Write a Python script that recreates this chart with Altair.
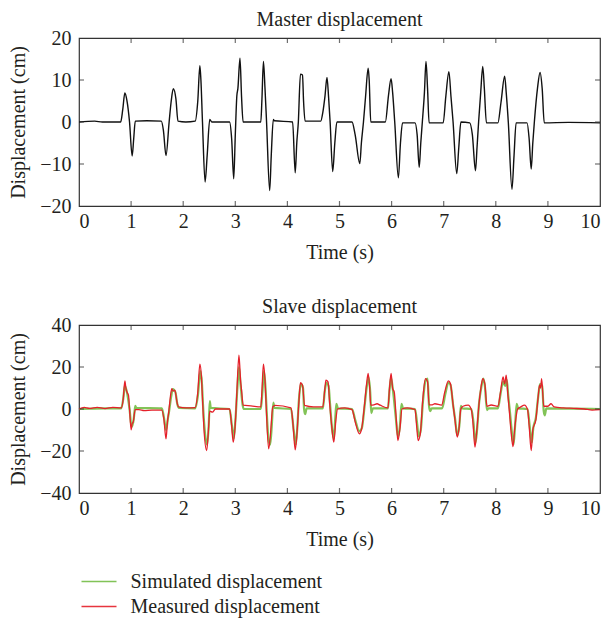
import altair as alt
import pandas as pd

# ---------------- data ----------------
x_ticks = [0, 1, 2, 3, 4, 5, 6, 7, 8, 9, 10]
top_y_ticks = [-20, -10, 0, 10, 20]
bot_y_ticks = [-40, -20, 0, 20, 40]

master_t = [0.00, 0.30, 0.45, 0.80, 0.84, 0.88, 0.92, 0.97, 1.02, 1.05, 1.08, 1.30, 1.58, 1.62, 1.67,
            1.73, 1.77, 1.81, 1.86, 1.90, 2.05, 2.23, 2.28, 2.32, 2.34, 2.37, 2.42, 2.46, 2.51, 2.55,
            2.89, 2.93, 2.97, 3.00, 3.03, 3.05, 3.09, 3.12, 3.15, 3.49, 3.51, 3.54, 3.57, 3.60, 3.66,
            3.69, 3.73, 3.75, 4.10, 4.15, 4.18, 4.21, 4.25, 4.29, 4.31, 4.34, 4.64, 4.68, 4.72, 4.76,
            4.79, 4.82, 4.87, 4.91, 4.95, 5.24, 5.30, 5.39, 5.42, 5.46, 5.50, 5.55, 5.57, 5.60, 5.88,
            5.94, 5.99, 6.02, 6.06, 6.13, 6.17, 6.21, 6.45, 6.49, 6.53, 6.56, 6.59, 6.63, 6.66, 6.69,
            6.72, 6.99, 7.04, 7.10, 7.14, 7.18, 7.25, 7.29, 7.33, 7.50, 7.55, 7.61, 7.64, 7.67, 7.71,
            7.75, 7.78, 7.82, 8.04, 8.10, 8.17, 8.20, 8.24, 8.31, 8.35, 8.39, 8.60, 8.64, 8.68, 8.71,
            8.74, 8.80, 8.85, 8.89, 8.93, 9.40, 10.00]
master_v = [0.0, 0.2, 0.0, 0.0, 3.0, 6.9, 5.1, 0.0, -8.1, -4.0, 0.2, 0.3, 0.2, -2.0, -8.0,
            0.0, 5.0, 7.9, 5.5, 0.2, 0.0, 0.2, 5.0, 13.4, 10.0, 0.0, -14.3, -8.0, 0.6, 0.0,
            0.0, -4.0, -13.5, -3.0, 6.3, 8.0, 15.2, 6.0, 0.0, 0.0, 5.0, 14.4, 8.0, 0.0, -16.3,
            -8.0, 0.6, 0.3, 0.0, -12.1, -5.0, 0.0, 11.4, 11.2, 5.0, 0.2, 0.2, 2.3, 6.0, 10.6,
            6.0, 0.0, -11.8, -5.0, 0.0, 0.0, -3.0, -9.9, -5.0, 0.0, 6.0, 12.8, 10.0, 0.0, 0.0,
            6.3, 10.3, 7.0, 0.0, -13.3, -5.0, -0.2, -0.2, -3.0, -10.8, -5.0, 0.0, 7.0, 14.4, 8.0,
            -0.2, -0.2, 6.0, 12.0, 6.0, 0.0, -12.3, -6.0, 0.0, -0.2, -3.0, -11.6, -6.0, 0.0, 7.0,
            13.2, 8.0, -0.2, -0.2, 4.7, 10.9, 7.0, 0.0, -16.0, -8.0, -0.2, -0.2, -4.0, -11.2, -5.0,
            0.0, 8.0, 11.8, 8.0, -0.2, -0.1, -0.2]

sim_t = [0.00, 0.50, 0.81, 0.85, 0.88, 0.92, 0.97, 1.01, 1.05, 1.08, 1.10, 1.59, 1.63, 1.67, 1.71,
         1.73, 1.77, 1.80, 1.85, 1.89, 1.92, 2.23, 2.28, 2.33, 2.36, 2.38, 2.42, 2.46, 2.49, 2.51,
         2.53, 2.89, 2.93, 2.97, 3.00, 3.04, 3.07, 3.10, 3.14, 3.16, 3.49, 3.52, 3.55, 3.58, 3.60,
         3.64, 3.67, 3.70, 3.73, 3.75, 4.07, 4.12, 4.16, 4.19, 4.22, 4.26, 4.30, 4.32, 4.34, 4.37,
         4.68, 4.72, 4.75, 4.79, 4.82, 4.86, 4.89, 4.92, 4.94, 4.97, 5.24, 5.30, 5.38, 5.43, 5.48,
         5.52, 5.56, 5.59, 5.61, 5.64, 5.93, 5.96, 5.99, 6.03, 6.08, 6.12, 6.16, 6.19, 6.22, 6.45,
         6.49, 6.52, 6.56, 6.60, 6.65, 6.69, 6.72, 6.74, 6.77, 6.97, 7.03, 7.09, 7.13, 7.18, 7.22,
         7.26, 7.30, 7.33, 7.36, 7.53, 7.57, 7.61, 7.64, 7.68, 7.72, 7.76, 7.79, 7.83, 7.86, 8.04,
         8.09, 8.14, 8.18, 8.21, 8.24, 8.27, 8.30, 8.34, 8.37, 8.40, 8.43, 8.61, 8.65, 8.69, 8.72,
         8.77, 8.81, 8.85, 8.89, 8.92, 8.94, 8.97, 10.00]
sim_v = [0.0, 0.3, 0.3, 5.0, 11.0, 8.0, 0.0, -8.5, -5.0, 1.5, 0.5, 0.3, -4.0, -10.0, -4.0,
         -1.0, 6.0, 9.5, 8.0, 2.0, 0.5, 0.3, 6.0, 18.0, 12.0, 2.0, -12.0, -17.0, -8.0, 3.8,
         0.5, 0.0, -7.0, -14.0, -6.0, 10.0, 20.0, 12.0, 2.0, 0.0, 0.0, 8.0, 18.0, 10.0, 0.0,
         -15.0, -17.0, -8.0, 3.0, 0.5, 0.0, -10.0, -17.0, -9.0, 4.0, 12.0, 10.0, 0.0, -2.5, 0.3,
         0.3, 9.0, 12.5, 11.0, 2.0, -10.0, -14.0, -4.0, 2.5, 0.3, 0.0, -5.0, -10.5, -9.0, 1.0,
         10.0, 15.0, 8.0, -2.0, 0.3, 0.3, 9.0, 15.0, 8.0, -4.0, -13.0, -8.0, 2.5, 0.3, 0.0,
         -7.0, -13.0, -10.0, 3.0, 13.5, 14.5, 1.0, -1.0, 0.3, 0.3, 7.0, 12.5, 11.5, 2.0, -5.0,
         -12.5, -8.0, 1.5, 0.3, 0.0, -6.0, -16.0, -10.0, 3.0, 10.0, 14.5, 11.0, -0.5, 0.3, 0.3,
         7.0, 13.0, 11.0, 14.0, 6.0, -1.0, -9.0, -17.0, -8.0, 2.5, 0.3, 0.0, -8.0, -16.0, -9.0,
         -4.0, 5.0, 12.0, 11.0, -1.0, -3.0, 0.3, 0.0]

meas_t = [0.00, 0.10, 0.20, 0.35, 0.50, 0.65, 0.81, 0.85, 0.88, 0.90, 0.92, 0.95, 0.97, 1.00, 1.02,
          1.04, 1.08, 1.15, 1.25, 1.40, 1.59, 1.63, 1.67, 1.70, 1.72, 1.75, 1.78, 1.81, 1.84, 1.88,
          1.91, 2.05, 2.23, 2.28, 2.32, 2.35, 2.37, 2.40, 2.45, 2.48, 2.51, 2.56, 2.62, 2.89, 2.93,
          2.96, 3.00, 3.03, 3.07, 3.09, 3.10, 3.12, 3.15, 3.30, 3.49, 3.51, 3.54, 3.57, 3.59, 3.64,
          3.67, 3.72, 3.76, 4.07, 4.11, 4.15, 4.18, 4.22, 4.25, 4.29, 4.33, 4.50, 4.68, 4.72, 4.74,
          4.78, 4.81, 4.85, 4.89, 4.93, 4.96, 5.10, 5.24, 5.30, 5.38, 5.42, 5.48, 5.52, 5.55, 5.58,
          5.60, 5.66, 5.72, 5.78, 5.93, 5.96, 5.99, 6.02, 6.05, 6.09, 6.12, 6.16, 6.20, 6.30, 6.45,
          6.48, 6.51, 6.55, 6.60, 6.65, 6.69, 6.72, 6.78, 6.83, 6.96, 7.02, 7.09, 7.13, 7.18, 7.22,
          7.26, 7.29, 7.33, 7.37, 7.47, 7.53, 7.56, 7.60, 7.63, 7.68, 7.72, 7.75, 7.79, 7.83, 7.91,
          8.04, 8.09, 8.14, 8.17, 8.20, 8.23, 8.26, 8.29, 8.33, 8.36, 8.42, 8.48, 8.55, 8.61, 8.64,
          8.68, 8.71, 8.77, 8.81, 8.84, 8.86, 8.88, 8.92, 9.00, 9.06, 9.12, 9.30, 9.50, 9.70, 9.85,
          10.00]
meas_v = [0.0, 0.8, 0.3, 0.8, 0.2, 0.8, 0.5, 5.0, 13.4, 10.0, 8.1, 6.5, 0.0, -9.9, -7.0,
          -6.2, -0.3, -0.3, -0.8, -0.5, -0.5, -5.0, -14.2, -5.4, -2.0, 5.0, 9.7, 8.5, 9.0, 3.4,
          1.0, 0.5, 0.7, 8.0, 21.4, 15.3, 5.0, -10.0, -19.8, -11.8, -1.0, -1.5, 0.0, 0.0, -8.0,
          -15.8, -7.0, 8.0, 25.7, 18.5, 14.0, 9.0, 1.8, 1.5, 1.0, 8.0, 21.4, 13.7, 3.0, -19.0,
          -13.4, 1.0, 1.7, 0.5, -8.0, -19.5, -13.0, 3.0, 12.5, 11.3, 1.7, 1.0, 1.0, 10.0, 13.7,
          12.9, 3.0, -8.0, -15.8, -5.4, 0.0, 0.5, -0.3, -6.0, -11.8, -10.0, 2.0, 12.0, 16.9, 9.7,
          1.8, 2.0, 2.5, 1.8, 0.5, 10.0, 16.9, 9.7, 8.1, -5.0, -15.0, -9.4, 0.0, 0.5, -0.3,
          -8.0, -15.0, -12.0, 5.0, 14.5, 13.0, 2.0, 2.0, 2.5, 1.8, 8.0, 13.4, 12.0, 2.0, -6.0,
          -13.4, -10.0, 0.0, 1.3, 1.8, -0.3, -6.0, -18.2, -11.8, 3.0, 11.0, 14.5, 12.0, 1.3, 1.9,
          1.3, 8.0, 15.3, 12.0, 16.1, 7.3, -1.0, -10.0, -17.9, -10.0, 0.0, 1.0, 1.8, -0.3, -8.0,
          -19.8, -10.0, -5.0, 5.0, 11.3, 10.0, 14.5, 1.3, 1.3, 2.5, 1.0, 0.5, 0.3, 0.0, -0.5,
          -0.3]

series_names = ["Simulated displacement", "Measured displacement"]
series_colors = ["#74bd45", "#e5202a"]

# ---------------- styling ----------------
FONT = "Liberation Serif"
FS = 20
INK = "#231f20"
FRAME = "#333333"
W, H = 521, 168

master_df = pd.DataFrame({"t": master_t, "v": master_v})
sim_df = pd.DataFrame({"t": sim_t, "v": sim_v, "series": series_names[0]})
meas_df = pd.DataFrame({"t": meas_t, "v": meas_v, "series": series_names[1]})


def x_enc():
    return alt.X("t:Q", scale=alt.Scale(domain=[0, 10], nice=False, zero=False),
                 axis=alt.Axis(values=x_ticks, title="Time (s)", format="d"))


def y_enc(ticks):
    return alt.Y("v:Q", scale=alt.Scale(domain=[ticks[0], ticks[-1]], nice=False, zero=False),
                 axis=alt.Axis(values=ticks, title="Displacement (cm)", format="d"))


def tick_layers(yticks):
    lo, hi = yticks[0], yticks[-1]
    xs = pd.DataFrame({"t": x_ticks[1:-1]})
    ys = pd.DataFrame({"v": yticks[1:-1]})
    common = dict(color=FRAME, thickness=1.2, size=5)
    return [
        alt.Chart(xs.assign(v=lo)).mark_tick(orient="vertical", yOffset=-2.5, **common).encode(x="t:Q", y="v:Q"),
        alt.Chart(xs.assign(v=hi)).mark_tick(orient="vertical", yOffset=2.5, **common).encode(x="t:Q", y="v:Q"),
        alt.Chart(ys.assign(t=x_ticks[0])).mark_tick(orient="horizontal", xOffset=2.5, **common).encode(x="t:Q", y="v:Q"),
        alt.Chart(ys.assign(t=x_ticks[-1])).mark_tick(orient="horizontal", xOffset=-2.5, **common).encode(x="t:Q", y="v:Q"),
    ]


top_line = alt.Chart(master_df).mark_line(color="#111111", strokeWidth=1.4, interpolate="monotone").encode(
    x=x_enc(), y=y_enc(top_y_ticks))
top = alt.layer(top_line, *tick_layers(top_y_ticks)).properties(
    width=W, height=H, title="Master displacement")

color = alt.Color("series:N",
                  scale=alt.Scale(domain=series_names, range=series_colors),
                  legend=alt.Legend(title=None, orient="none", legendX=1.5, legendY=245.5,
                                    direction="vertical", symbolType="M-1.75,0L1.75,0",
                                    symbolSize=400, symbolStrokeWidth=1.5, symbolOffset=7.5,
                                    symbolFillColor="transparent",
                                    labelFont=FONT, labelFontSize=FS, labelColor=INK,
                                    labelOffset=20.5, labelLimit=400, rowPadding=4, padding=0))

sim_line = alt.Chart(sim_df).mark_line(strokeWidth=2.2, opacity=0.9, interpolate="monotone").encode(
    x=x_enc(), y=y_enc(bot_y_ticks), color=color)
meas_line = alt.Chart(meas_df).mark_line(strokeWidth=1.3, interpolate="monotone").encode(
    x=x_enc(), y=y_enc(bot_y_ticks), color=color)
bottom = alt.layer(sim_line, meas_line, *tick_layers(bot_y_ticks)).properties(
    width=W, height=H, title="Slave displacement")

chart = alt.vconcat(top, bottom, spacing=32).resolve_scale(color="independent").properties(
    padding={"left": 0, "top": 0, "right": 0, "bottom": 0}
).configure_view(
    stroke=FRAME, strokeWidth=1.2
).configure_axis(
    grid=False, domain=False, ticks=False, tickSize=0,
    labelFont=FONT, labelFontSize=FS, labelColor=INK,
    titleFont=FONT, titleFontSize=FS, titleColor=INK, titleFontWeight="normal"
).configure_axisX(
    labelPadding=5, titlePadding=11
).configure_axisY(
    labelPadding=8, titlePadding=11
).configure_title(
    font=FONT, fontSize=FS, color=INK, fontWeight="normal", offset=-1.5
)

chart.save("out.html", embed_options={"renderer": "svg", "actions": False})
